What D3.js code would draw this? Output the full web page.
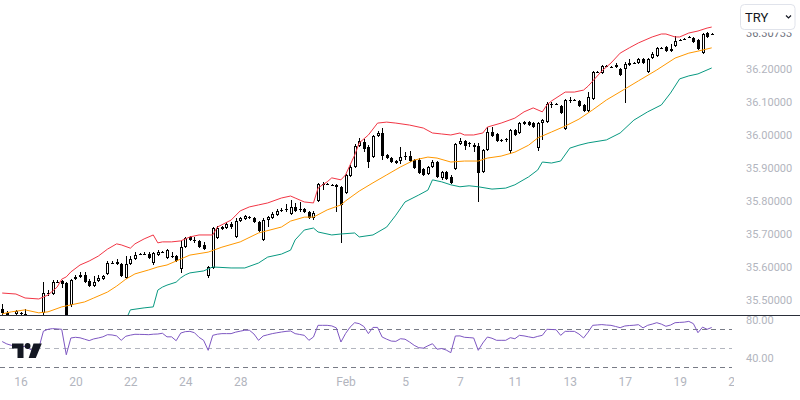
<!DOCTYPE html>
<html lang="en">
<head>
<meta charset="UTF-8">
<title>USDTRY 4H</title>
<script src="https://cdn.jsdelivr.net/npm/d3@7"></script>
<style>
  body { margin: 0; background: #ffffff; }
  svg { display: block; font-family: Roboto, "Noto Sans", sans-serif; }
</style>
</head>
<body>
<div id="chart"></div>
<script>
// ---------- data (4h candles, index = bar number) ----------
const open = [
  35.474, 35.462, 35.453, 35.459, 35.462, 35.456, 35.450, 35.440, 35.437, 35.462,
  35.522, 35.519, 35.555, 35.558, 35.552, 35.486, 35.564, 35.571, 35.577, 35.558,
  35.543, 35.558, 35.564, 35.580, 35.613, 35.616, 35.610, 35.568, 35.610, 35.625,
  35.640, 35.640, 35.640, 35.613, 35.637, 35.646, 35.628, 35.634, 35.634, 35.595,
  35.661, 35.692, 35.683, 35.680, 35.668, 35.574, 35.598, 35.689, 35.716, 35.719,
  35.731, 35.692, 35.740, 35.746, 35.752, 35.749, 35.737, 35.683, 35.743, 35.749,
  35.758, 35.774, 35.777, 35.761, 35.783, 35.777, 35.777, 35.767, 35.749, 35.801,
  35.853, 35.853, 35.850, 35.844, 35.844, 35.825, 35.877, 35.904, 35.967, 35.980,
  35.964, 35.934, 35.998, 36.007, 35.940, 35.931, 35.922, 35.922, 35.937, 35.937,
  35.925, 35.925, 35.898, 35.883, 35.904, 35.919, 35.871, 35.889, 35.874, 35.898,
  35.974, 35.983, 35.977, 35.971, 35.968, 35.889, 35.955, 36.010, 36.004, 35.986,
  35.989, 35.952, 36.016, 36.007, 36.040, 36.040, 36.037, 35.961, 36.037, 36.040,
  36.095, 36.095, 36.089, 36.019, 36.107, 36.107, 36.104, 36.092, 36.074, 36.110,
  36.192, 36.189, 36.210, 36.207, 36.213, 36.201, 36.201, 36.213, 36.219, 36.219,
  36.231, 36.192, 36.234, 36.240, 36.265, 36.268, 36.255, 36.271, 36.289, 36.292,
  36.298, 36.295, 36.289, 36.249, 36.310, 36.304
];
const high = [
  35.489, 35.468, 35.453, 35.471, 35.465, 35.474, 35.453, 35.450, 35.453, 35.555,
  35.531, 35.561, 35.561, 35.561, 35.555, 35.564, 35.577, 35.586, 35.586, 35.564,
  35.574, 35.577, 35.577, 35.619, 35.619, 35.625, 35.613, 35.634, 35.634, 35.646,
  35.643, 35.646, 35.646, 35.646, 35.652, 35.649, 35.655, 35.646, 35.637, 35.680,
  35.692, 35.695, 35.692, 35.683, 35.677, 35.604, 35.722, 35.725, 35.725, 35.737,
  35.737, 35.749, 35.752, 35.758, 35.755, 35.752, 35.740, 35.749, 35.755, 35.767,
  35.777, 35.780, 35.792, 35.804, 35.795, 35.798, 35.780, 35.771, 35.771, 35.856,
  35.859, 35.856, 35.853, 35.853, 35.847, 35.883, 35.910, 35.974, 35.992, 35.989,
  35.970, 36.001, 36.013, 36.022, 35.943, 35.934, 35.925, 35.964, 35.949, 35.952,
  35.928, 35.931, 35.901, 35.907, 35.925, 35.922, 35.892, 35.892, 35.880, 35.977,
  35.992, 35.986, 35.980, 35.977, 35.977, 35.958, 36.025, 36.025, 36.007, 35.989,
  35.992, 36.019, 36.019, 36.040, 36.043, 36.043, 36.040, 36.040, 36.049, 36.101,
  36.101, 36.098, 36.092, 36.110, 36.116, 36.110, 36.107, 36.095, 36.131, 36.195,
  36.195, 36.213, 36.213, 36.210, 36.219, 36.204, 36.222, 36.231, 36.222, 36.234,
  36.234, 36.234, 36.252, 36.268, 36.268, 36.271, 36.277, 36.301, 36.292, 36.295,
  36.301, 36.298, 36.292, 36.310, 36.313, 36.310
];
const low = [
  35.447, 35.450, 35.434, 35.453, 35.456, 35.447, 35.428, 35.422, 35.428, 35.456,
  35.513, 35.516, 35.552, 35.537, 35.422, 35.480, 35.561, 35.568, 35.552, 35.540,
  35.540, 35.555, 35.561, 35.577, 35.610, 35.607, 35.571, 35.564, 35.607, 35.622,
  35.637, 35.637, 35.625, 35.607, 35.634, 35.643, 35.625, 35.628, 35.616, 35.583,
  35.658, 35.680, 35.674, 35.658, 35.652, 35.568, 35.595, 35.686, 35.713, 35.716,
  35.716, 35.689, 35.737, 35.743, 35.746, 35.734, 35.707, 35.680, 35.722, 35.746,
  35.755, 35.767, 35.767, 35.758, 35.767, 35.767, 35.764, 35.746, 35.743, 35.798,
  35.834, 35.850, 35.847, 35.767, 35.674, 35.822, 35.874, 35.901, 35.964, 35.949,
  35.901, 35.931, 35.995, 35.925, 35.928, 35.916, 35.913, 35.913, 35.925, 35.919,
  35.898, 35.883, 35.877, 35.880, 35.901, 35.871, 35.865, 35.865, 35.853, 35.895,
  35.970, 35.955, 35.964, 35.949, 35.798, 35.886, 35.952, 35.995, 35.980, 35.980,
  35.980, 35.943, 35.998, 36.004, 36.031, 36.028, 36.022, 35.952, 35.986, 36.037,
  36.083, 36.092, 36.065, 36.016, 36.098, 36.104, 36.086, 36.071, 36.071, 36.107,
  36.189, 36.186, 36.207, 36.204, 36.204, 36.180, 36.098, 36.210, 36.216, 36.216,
  36.216, 36.189, 36.231, 36.237, 36.262, 36.252, 36.252, 36.268, 36.286, 36.289,
  36.295, 36.280, 36.258, 36.246, 36.295, 36.304
];
const close = [
  35.462, 35.456, 35.444, 35.468, 35.462, 35.459, 35.440, 35.434, 35.453, 35.522,
  35.519, 35.555, 35.555, 35.549, 35.434, 35.561, 35.571, 35.577, 35.555, 35.543,
  35.555, 35.568, 35.574, 35.613, 35.613, 35.610, 35.574, 35.610, 35.625, 35.637,
  35.640, 35.640, 35.628, 35.643, 35.646, 35.646, 35.652, 35.634, 35.619, 35.661,
  35.689, 35.683, 35.683, 35.661, 35.655, 35.601, 35.719, 35.719, 35.722, 35.731,
  35.722, 35.740, 35.749, 35.755, 35.749, 35.737, 35.710, 35.743, 35.752, 35.761,
  35.771, 35.774, 35.777, 35.783, 35.771, 35.777, 35.767, 35.749, 35.764, 35.853,
  35.853, 35.853, 35.850, 35.850, 35.789, 35.880, 35.904, 35.967, 35.983, 35.958,
  35.919, 35.998, 36.007, 35.937, 35.931, 35.919, 35.916, 35.934, 35.937, 35.922,
  35.901, 35.886, 35.880, 35.904, 35.919, 35.874, 35.889, 35.868, 35.856, 35.974,
  35.983, 35.968, 35.977, 35.964, 35.886, 35.955, 36.010, 35.998, 35.983, 35.986,
  35.989, 36.016, 36.001, 36.037, 36.034, 36.031, 36.025, 36.037, 36.046, 36.095,
  36.095, 36.095, 36.068, 36.107, 36.107, 36.107, 36.089, 36.074, 36.116, 36.192,
  36.192, 36.210, 36.210, 36.207, 36.207, 36.183, 36.216, 36.219, 36.219, 36.231,
  36.219, 36.231, 36.246, 36.265, 36.265, 36.255, 36.262, 36.286, 36.289, 36.292,
  36.298, 36.283, 36.262, 36.307, 36.298, 36.30733
];
const lastPrice = 36.30733;

// Bollinger bands as [bar, price]
const bbUpper = [
  [0, 35.522], [3, 35.519], [5, 35.507], [8, 35.504], [10, 35.516], [12, 35.540], [13, 35.564],
  [14, 35.571], [15, 35.586], [17, 35.607], [19, 35.619], [21, 35.634], [23, 35.655], [25, 35.671],
  [26, 35.668], [28, 35.658], [29, 35.671], [31, 35.686], [33, 35.698], [34, 35.674], [35, 35.677],
  [37, 35.677], [39, 35.680], [41, 35.692], [43, 35.698], [46, 35.698], [47, 35.722], [50, 35.743],
  [52, 35.771], [54, 35.783], [56, 35.789], [58, 35.795], [61, 35.810], [63, 35.816], [64, 35.810],
  [66, 35.798], [68, 35.795], [69, 35.840], [70, 35.850], [71, 35.859], [72, 35.871], [74, 35.865],
  [75, 35.880], [77, 35.940], [78, 35.977], [80, 36.001], [82, 36.037], [84, 36.040], [86, 36.037],
  [89, 36.031], [92, 36.022], [94, 36.007], [96, 36.004], [98, 36.001], [100, 36.007], [101, 36.001],
  [103, 36.001], [105, 36.007], [106, 36.025], [109, 36.037], [112, 36.052], [114, 36.071],
  [116, 36.083], [118, 36.071], [119, 36.092], [120, 36.104], [123, 36.131], [125, 36.131],
  [127, 36.137], [128, 36.149], [131, 36.195], [133, 36.219], [135, 36.249], [137, 36.265],
  [139, 36.280], [142, 36.298], [144, 36.307], [145, 36.307], [147, 36.298], [148, 36.298],
  [150, 36.310], [152, 36.316], [154, 36.325], [155, 36.328]
];
const bbBasis = [
  [0, 35.459], [2, 35.465], [5, 35.471], [8, 35.462], [10, 35.465], [13, 35.480], [15, 35.486],
  [18, 35.495], [20, 35.507], [23, 35.525], [25, 35.543], [27, 35.564], [29, 35.580], [32, 35.592],
  [34, 35.601], [36, 35.607], [39, 35.625], [41, 35.637], [45, 35.646], [48, 35.661], [52, 35.677],
  [56, 35.704], [61, 35.722], [63, 35.740], [66, 35.752], [68, 35.752], [71, 35.774], [74, 35.789],
  [75, 35.801], [78, 35.831], [81, 35.856], [84, 35.880], [87, 35.904], [90, 35.925], [93, 35.934],
  [95, 35.931], [98, 35.919], [101, 35.922], [104, 35.922], [106, 35.931], [109, 35.937],
  [112, 35.949], [115, 35.970], [117, 35.992], [120, 36.010], [123, 36.028], [126, 36.049],
  [129, 36.077], [132, 36.107], [136, 36.140], [139, 36.165], [143, 36.198], [147, 36.234],
  [150, 36.249], [152, 36.255], [155, 36.265]
];
const bbLower = [
  [27, 35.440], [28, 35.471], [31, 35.477], [33, 35.480], [34, 35.531], [35, 35.540], [36, 35.546],
  [38, 35.555], [39, 35.568], [40, 35.577], [41, 35.583], [44, 35.589], [46, 35.601], [50, 35.598],
  [53, 35.598], [56, 35.613], [58, 35.631], [61, 35.640], [63, 35.652], [64, 35.683], [66, 35.713],
  [68, 35.719], [69, 35.707], [72, 35.698], [74, 35.701], [77, 35.704], [78, 35.692], [81, 35.698],
  [84, 35.722], [86, 35.758], [88, 35.798], [91, 35.819], [93, 35.834], [94, 35.865], [96, 35.859],
  [98, 35.850], [100, 35.844], [102, 35.847], [104, 35.844], [107, 35.837], [110, 35.840],
  [112, 35.850], [115, 35.874], [117, 35.895], [118, 35.919], [120, 35.916], [122, 35.922],
  [124, 35.961], [126, 35.970], [128, 35.977], [132, 35.986], [135, 36.007], [138, 36.046],
  [141, 36.071], [144, 36.092], [146, 36.128], [148, 36.171], [150, 36.180], [152, 36.186],
  [155, 36.204]
];

// RSI, one value per bar
const rsi = [
  57, 54.5, 53, 52, 51, 52, 49, 47, 50, 68,
  70, 70.7, 70.4, 70, 43, 60.8, 61.5, 61, 59.5, 58,
  59.8, 60.8, 62, 64.3, 64, 63, 58.3, 62.6, 63.8, 64.7,
  64.6, 64.5, 64.3, 64.8, 65, 65.8, 62, 62, 57.9, 66,
  67.5, 67.8, 66.4, 61.5, 58.3, 47.7, 63.6, 64.8, 65.4, 65.4,
  65.4, 67, 68, 69, 69, 65, 58.3, 62.9, 64.2, 65.4,
  66.3, 67.1, 67.8, 68.2, 65.4, 64.5, 63.6, 58.3, 61.8, 74.2,
  74.2, 74.2, 73.6, 71.5, 56.5, 65.4, 72.3, 77, 76, 73,
  65.4, 72, 72, 61.8, 59.5, 57.5, 57.2, 60, 59.5, 56.5,
  53, 50.5, 50, 52.5, 54.7, 48.9, 49.6, 48, 45.2, 62.9,
  63, 61.5, 61.2, 60.8, 47.7, 55.5, 61.8, 60.5, 58.3, 58.3,
  58.3, 61.1, 60, 63.6, 63, 62, 61.1, 62.5, 63.6, 70,
  69.8, 69.6, 63.6, 67.8, 67.8, 67.8, 65, 60.8, 67, 74.2,
  74.6, 75, 74.5, 74.2, 73, 71.7, 73.5, 74, 74.3, 74.9,
  71.5, 74.2, 75.5, 77, 75.5, 73.2, 74.5, 77, 77.3, 77.6,
  78.4, 76, 66.4, 72.3, 70, 71.9
];
const rsiLevels = [70, 50, 30];

// axis ticks
const priceTicks = [35.5, 35.6, 35.7, 35.8, 35.9, 36.0, 36.1, 36.2];
const rsiTicks = [80, 40];
const timeTickBars = [4, 16, 28, 40, 52, 75, 88, 100, 112, 124, 136, 148, 160];
const timeTickLabels = ["16", "20", "22", "24", "28", "Feb", "5", "7", "11", "13", "17", "19", "21"];

// ---------- layout ----------
const W = 800, H = 400;
const plotRight = 734;
const mainBottom = 315;
const rsiBottom = 372;
const axisX = 746;
const labelColor = "#b2b5be";

const svg = d3.select("#chart").append("svg").attr("width", W).attr("height", H);
const defs = svg.append("defs");
defs.append("clipPath").attr("id", "clipMain").append("rect")
  .attr("x", 0).attr("y", 0).attr("width", plotRight).attr("height", mainBottom);
defs.append("clipPath").attr("id", "clipRsi").append("rect")
  .attr("x", 0).attr("y", mainBottom + 1).attr("width", plotRight).attr("height", rsiBottom - mainBottom - 1);
defs.append("clipPath").attr("id", "clipTime").append("rect")
  .attr("x", 0).attr("y", rsiBottom).attr("width", plotRight).attr("height", H - rsiBottom);

const x = d3.scaleLinear().domain([0, 155]).range([2.2, 711.7]);
const y = d3.scaleLinear().domain([35.5, 36.2]).range([300.3, 69.3]);
const yRsi = d3.scaleLinear().domain([30, 70]).range([367, 329.3]);

// ---------- candles ----------
const candles = open.map((o, i) => ({ i, o, h: high[i], l: low[i], c: close[i] }));
const gMain = svg.append("g").attr("clip-path", "url(#clipMain)");
const gCandles = gMain.append("g").attr("shape-rendering", "crispEdges");

const bar = gCandles.selectAll("g.bar").data(candles).enter().append("g").attr("class", "bar");
bar.append("line")
  .attr("x1", d => Math.round(x(d.i)) + 0.5)
  .attr("x2", d => Math.round(x(d.i)) + 0.5)
  .attr("y1", d => y(d.h))
  .attr("y2", d => y(d.l))
  .attr("stroke", "#000");

bar.each(function (d) {
  const g = d3.select(this);
  const cx = Math.round(x(d.i));
  const top = y(Math.max(d.o, d.c));
  const bot = y(Math.min(d.o, d.c));
  if (bot - top < 1.5) {
    g.append("rect").attr("x", cx - 1).attr("y", Math.round(top)).attr("width", 3).attr("height", 1).attr("fill", "#000");
  } else if (d.c > d.o) {
    g.append("rect").attr("x", cx - 0.5).attr("y", Math.round(top) + 0.5)
      .attr("width", 2).attr("height", Math.max(Math.round(bot) - Math.round(top) - 1, 1))
      .attr("fill", "#fff").attr("stroke", "#000");
  } else {
    g.append("rect").attr("x", cx - 1).attr("y", Math.round(top))
      .attr("width", 3).attr("height", Math.round(bot) - Math.round(top)).attr("fill", "#000");
  }
});

// ---------- bollinger bands ----------
const bandLine = d3.line().x(d => x(d[0])).y(d => y(d[1]));
[[bbBasis, "#ff9800"], [bbUpper, "#f23645"], [bbLower, "#089981"]].forEach(([data, col]) => {
  gMain.append("path").datum(data).attr("d", bandLine)
    .attr("fill", "none").attr("stroke", col).attr("stroke-width", 1);
});

// ---------- pane separator ----------
svg.append("line").attr("x1", 0).attr("x2", W).attr("y1", mainBottom + 0.5).attr("y2", mainBottom + 0.5)
  .attr("stroke", "#2a2e39").attr("stroke-width", 1);

// ---------- RSI pane ----------
const gRsi = svg.append("g").attr("clip-path", "url(#clipRsi)");
gRsi.selectAll("line.level").data(rsiLevels).enter().append("line")
  .attr("x1", 0).attr("x2", 732)
  .attr("y1", d => Math.round(yRsi(d)) + 0.5).attr("y2", d => Math.round(yRsi(d)) + 0.5)
  .attr("stroke", d => d === 50 ? "#b2b5be" : "#787b86")
  .attr("stroke-dasharray", "5,4");

const rsiLine = d3.line().x((d, i) => x(i)).y(d => yRsi(d));
gRsi.append("path").datum(rsi).attr("d", rsiLine)
  .attr("fill", "none").attr("stroke", "#7e57c2").attr("stroke-width", 1);

// TradingView logo
const logo = svg.append("g").attr("fill", "#131722");
logo.append("path").attr("d", "M12,343.5H23.5V358H17.5V348.5H12Z");
logo.append("circle").attr("cx", 27.6).attr("cy", 346).attr("r", 2.9);
logo.append("path").attr("d", "M33.5,343.5H41.8L35.8,358H28.7Z");

// ---------- axes ----------
function styleAxis(g) {
  g.select(".domain").remove();
  g.selectAll("line").remove();
  g.attr("font-family", null).attr("font-size", null);
  g.selectAll("text").attr("fill", labelColor);
}

svg.append("g").attr("transform", `translate(${axisX},0)`)
  .call(d3.axisRight(y).tickValues(priceTicks).tickFormat(d3.format(".5f")).tickSize(0).tickPadding(0))
  .call(styleAxis)
  .style("font-size", "11px");

svg.append("g").attr("transform", `translate(${axisX},0)`)
  .call(d3.axisRight(yRsi).tickValues(rsiTicks).tickFormat(d3.format(".2f")).tickSize(0).tickPadding(0))
  .call(styleAxis)
  .style("font-size", "11px");

svg.append("g").attr("clip-path", "url(#clipTime)")
  .append("g").attr("transform", `translate(0,${rsiBottom + 5})`)
  .call(d3.axisBottom(x).tickValues(timeTickBars).tickFormat((d, i) => timeTickLabels[i]).tickSize(0).tickPadding(0))
  .call(styleAxis)
  .style("font-size", "12px");

// last price label (partly under the currency box)
svg.append("text").attr("x", axisX).attr("y", y(lastPrice)).attr("dy", "0.32em")
  .attr("fill", "#6a6d78").style("font-size", "11px")
  .text(d3.format(".5f")(lastPrice));

// currency selector (white backing hides the top of the price label)
const box = svg.append("g");
box.append("rect").attr("x", 738).attr("y", 2).attr("width", 60).attr("height", 30.5).attr("fill", "#fff");
box.append("rect").attr("x", 740.5).attr("y", 4.5).attr("width", 54.5).attr("height", 25).attr("rx", 4)
  .attr("fill", "#fff").attr("stroke", "#e0e3eb");
box.append("text").attr("x", 745).attr("y", 17).attr("dy", "0.35em")
  .attr("fill", "#131722").style("font-size", "13px").text("TRY");
box.append("path").attr("d", "M786,15.5L788.5,18L791,15.5")
  .attr("fill", "none").attr("stroke", "#131722").attr("stroke-width", 1.2);
</script>
</body>
</html>
